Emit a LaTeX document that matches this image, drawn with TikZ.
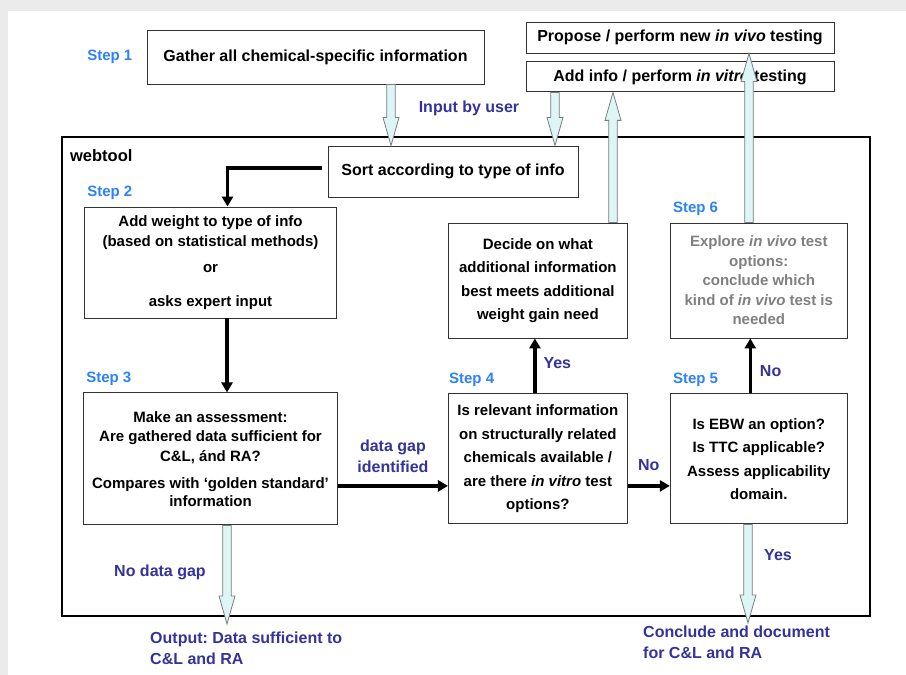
\documentclass[tikz,border=0pt]{standalone}
\usepackage{fontspec}
\setmainfont{Liberation Sans}
\usetikzlibrary{arrows.meta, positioning, calc}
\definecolor{stepblue}{RGB}{45,130,250}
\definecolor{lblblue}{RGB}{51,51,153}
\definecolor{hollowfill}{RGB}{221,245,245}
\definecolor{hollowline}{RGB}{125,125,125}
\definecolor{pagegray}{RGB}{235,235,235}
\definecolor{greytext}{RGB}{128,128,128}
\frenchspacing

\begin{document}
\begin{tikzpicture}[x=1pt, y=-1pt, >={Triangle[length=10pt, width=11pt]},
  box/.style={draw=black!80, line width=0.9pt, align=center, inner sep=2pt, font=\fontsize{15}{19.5}\selectfont\bfseries},
  widebox/.style={box, font=\fontsize{15}{23.5}\selectfont\bfseries},
  topbox/.style={box, font=\fontsize{16}{20}\selectfont\bfseries},
  steplbl/.style={text=stepblue, inner sep=0pt, font=\fontsize{15}{18}\selectfont\bfseries},
  lbl/.style={text=lblblue, inner sep=0pt, align=left, font=\fontsize{16}{21}\selectfont\bfseries},
  flow/.style={->, line width=3.3pt},
  hollowdown/.style={draw=hollowline, fill=hollowfill, line width=0.8pt, to path={let \p1=(\tikztostart), \p2=(\tikztotarget) in
    (\x2-4.3pt,\y1) -- (\x2-4.3pt,\y2+28pt) -- (\x2-8pt,\y2+28pt) -- (\x2,\y2) -- (\x2+8pt,\y2+28pt) -- (\x2+4.3pt,\y2+28pt) -- (\x2+4.3pt,\y1) -- cycle}},
  hollowup/.style={draw=hollowline, fill=hollowfill, line width=0.8pt, to path={let \p1=(\tikztostart), \p2=(\tikztotarget) in
    (\x2-4.3pt,\y1) -- (\x2-4.3pt,\y2-28pt) -- (\x2-8pt,\y2-28pt) -- (\x2,\y2) -- (\x2+8pt,\y2-28pt) -- (\x2+4.3pt,\y2-28pt) -- (\x2+4.3pt,\y1) -- cycle}}]
\useasboundingbox (0,0) rectangle (906,675);
\fill[pagegray] (0,0) rectangle (906,675);
\fill[white] (8,11) rectangle (906,675);

\node[draw, line width=2.2pt, minimum width=808pt, minimum height=479pt] (webtool) at (466,376.5) {};
\node[inner sep=0pt, font=\fontsize{16.5}{20}\selectfont\bfseries, below right=13pt and 9pt of webtool.north west] (webtoollbl) {webtool};

\node[topbox, minimum width=337pt, minimum height=54pt] (gather) at (315.5,57) {Gather all chemical-specific information};
\node[topbox, minimum width=308pt, minimum height=31pt] (propose) at (680,37.5) {Propose / perform new \textit{in vivo} testing};
\node[topbox, minimum width=308pt, minimum height=30pt, below=8pt of propose] (addinfo) {Add info / perform \textit{in vitro} testing};
\node[topbox, minimum width=250pt, minimum height=51pt] (sort) at (453,171.5) {Sort according to type of info};
\node[box, minimum width=252pt, minimum height=111pt] (weight) at (210.5,262.5) {Add weight to type of info\\(based on statistical methods)\\[7pt]or\\[14pt]asks expert input};
\node[box, minimum width=254pt, minimum height=132pt, below=74pt of weight] (assess) {Make an assessment:\\Are gathered data sufficient for\\C\&L, ánd RA?\\[7.5pt]Compares with `golden standard'\\[-1.5pt]information};
\node[widebox, minimum width=179pt, minimum height=130pt, right=110pt of assess] (related) {Is relevant information\\on structurally related\\chemicals available /\\are there \textit{in vitro} test\\options?};
\node[widebox, minimum width=177pt, minimum height=130pt, right=42pt of related] (ebw) {Is EBW an option?\\Is TTC applicable?\\Assess applicability\\domain.};
\node[widebox, minimum width=179pt, minimum height=115pt, above=55pt of related] (decide) {Decide on what\\additional information\\best meets additional\\weight gain need};
\node[box, text=greytext, minimum width=177pt, minimum height=115pt, above=55pt of ebw] (explore) {Explore \textit{in vivo} test\\options:\\conclude which\\kind of \textit{in vivo} test is\\needed};

\node[steplbl, left=14pt of gather] (step1) {Step 1};
\node[steplbl, above right=7pt and 3pt of weight.north west] (step2) {Step 2};
\node[steplbl, above right=7pt and 3pt of assess.north west] (step3) {Step 3};
\node[steplbl, above right=7pt and 1pt of related.north west] (step4) {Step 4};
\node[steplbl, above right=7pt and 3pt of ebw.north west] (step5) {Step 5};
\node[steplbl, above right=7pt and 3pt of explore.north west] (step6) {Step 6};

\node[lbl] (inputlbl) at (469,108) {Input by user};
\node[lbl] (nogaplbl) at (160,572) {No data gap};
\node[lbl] (yesconcl) at (778,555) {Yes};
\node[lbl, anchor=north west] (output) at (150,632) {Output: Data sufficient to\\C\&L and RA};
\node[lbl, anchor=north west] (conclude) at (643,626) {Conclude and document\\for C\&L and RA};
\coordinate (outtip) at (227,624);
\coordinate (concltip) at (748,623);

\draw[flow, shorten <=6pt] ([yshift=3.5pt]sort.west) -| ([xshift=17pt]weight.north);
\draw[flow] ([xshift=16.5pt]weight.south) -- ([xshift=16.5pt]assess.north);
\draw[flow] ([yshift=-27pt]assess.east) -- node[lbl, align=center, above=12pt] {data gap\\identified} ([yshift=-27pt]related.west);
\draw[flow] ([xshift=-3pt]related.north) -- node[lbl, right=7pt, pos=0.55] {Yes} ([xshift=-3pt]decide.south);
\draw[flow] ([yshift=-27pt]related.east) -- node[lbl, above=14pt] {No} ([yshift=-27pt]ebw.west);
\draw[flow] ([xshift=-8.5pt]ebw.north) -- node[lbl, right=8pt, pos=0.4] {No} ([xshift=-8.5pt]explore.south);

\draw[hollowdown] ([xshift=75.5pt]gather.south) to ([xshift=-62pt]sort.north);
\draw[hollowdown] ([xshift=-125pt]addinfo.south) to ([xshift=102pt]sort.north);
\draw[hollowup] ([xshift=76pt]decide.north) to ([xshift=-67pt]addinfo.south);
\draw[hollowup] ([xshift=-7.5pt]explore.north) to ([xshift=69pt]propose.south);
\draw[hollowdown] ([xshift=16.5pt]assess.south) to (outtip);
\draw[hollowdown] ([xshift=-8.5pt]ebw.south) to (concltip);
\end{tikzpicture}
\end{document}
